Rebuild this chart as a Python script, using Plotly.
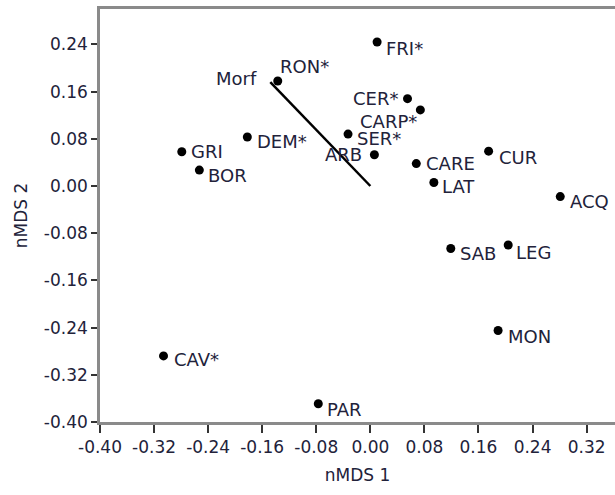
import plotly.graph_objects as go

# nMDS site scores
sites = ["FRI*", "RON*", "DEM*", "GRI", "BOR", "CER*", "CARP*", "SER*", "ARB",
         "CARE", "CUR", "LAT", "ACQ", "SAB", "LEG", "MON", "PAR", "CAV*"]
nmds1 = [0.010, -0.137, -0.182, -0.279, -0.253, 0.055, 0.074, -0.033, 0.006,
         0.068, 0.175, 0.094, 0.281, 0.119, 0.204, 0.189, -0.077, -0.306]
nmds2 = [0.244, 0.178, 0.083, 0.058, 0.027, 0.148, 0.129, 0.088, 0.053,
         0.038, 0.059, 0.006, -0.018, -0.106, -0.100, -0.245, -0.369, -0.288]

# fitted environmental vector
vector_name = "Morf"
vector_end = (-0.148, 0.176)

x_ticks = [-0.40, -0.32, -0.24, -0.16, -0.08, 0.00, 0.08, 0.16, 0.24, 0.32]
y_ticks = [-0.40, -0.32, -0.24, -0.16, -0.08, 0.00, 0.08, 0.16, 0.24]

# label placement: (xanchor, xshift, yshift) per site
label_style = {
    "FRI*": ("left", 7, -6), "RON*": ("left", 0, 14), "DEM*": ("left", 8, -4),
    "GRI": ("left", 7, 0), "BOR": ("left", 7, -5), "CER*": ("right", -8, 0),
    "CARP*": ("right", -1, -12), "SER*": ("left", 7, -4), "ARB": ("right", -10, 0),
    "CARE": ("left", 8, 0), "CUR": ("left", 8, -6), "LAT": ("left", 6, -4),
    "ACQ": ("left", 8, -5), "SAB": ("left", 7, -5), "LEG": ("left", 6, -7),
    "MON": ("left", 8, -6), "PAR": ("left", 7, -6), "CAV*": ("left", 8, -4),
}

FONT = "DejaVu Sans"
TEXT_COLOR = "#22223a"
AXIS_GREY = "#8a8a8a"
LABEL_SIZE = 18

fig = go.Figure()

fig.add_trace(go.Scatter(
    x=[0, vector_end[0]], y=[0, vector_end[1]], mode="lines",
    line=dict(color="black", width=2.5), hoverinfo="skip", showlegend=False,
))

fig.add_trace(go.Scatter(
    x=nmds1, y=nmds2, mode="markers", text=sites,
    marker=dict(color="black", size=9), showlegend=False,
))

annotations = []
for name, x, y in zip(sites, nmds1, nmds2):
    anchor, dx, dy = label_style[name]
    annotations.append(dict(
        x=x, y=y, text=name, showarrow=False, xanchor=anchor, yanchor="middle",
        xshift=dx, yshift=dy,
        font=dict(family=FONT, size=LABEL_SIZE, color=TEXT_COLOR),
    ))
annotations.append(dict(
    x=vector_end[0], y=vector_end[1], text=vector_name, showarrow=False,
    xanchor="right", yanchor="middle", xshift=-11, yshift=4,
    font=dict(family=FONT, size=LABEL_SIZE, color=TEXT_COLOR),
))

fig.update_layout(
    width=615, height=495,
    margin=dict(l=100, r=0, t=9, b=73),
    paper_bgcolor="white", plot_bgcolor="white",
    font=dict(family=FONT, size=17, color=TEXT_COLOR),
    annotations=annotations,
    xaxis=dict(
        range=[-0.40, 0.362], tickvals=x_ticks,
        ticktext=[f"{v:.2f}" for v in x_ticks],
        showgrid=False, zeroline=False,
        showline=True, linecolor=AXIS_GREY, linewidth=2.5, mirror=True,
        ticks="outside", ticklen=8, tickwidth=2, tickcolor="#333333",
        title=dict(text="nMDS 1", standoff=13, font=dict(size=17)),
    ),
    yaxis=dict(
        range=[-0.40, 0.30], tickvals=y_ticks,
        ticktext=[f"{v:.2f}" for v in y_ticks],
        showgrid=False, zeroline=False,
        showline=True, linecolor=AXIS_GREY, linewidth=2.5,
        ticks="outside", ticklen=6, tickwidth=2, tickcolor="#333333",
        title=dict(text="nMDS 2", standoff=12, font=dict(size=17)),
    ),
)

fig.write_html("out.html")
